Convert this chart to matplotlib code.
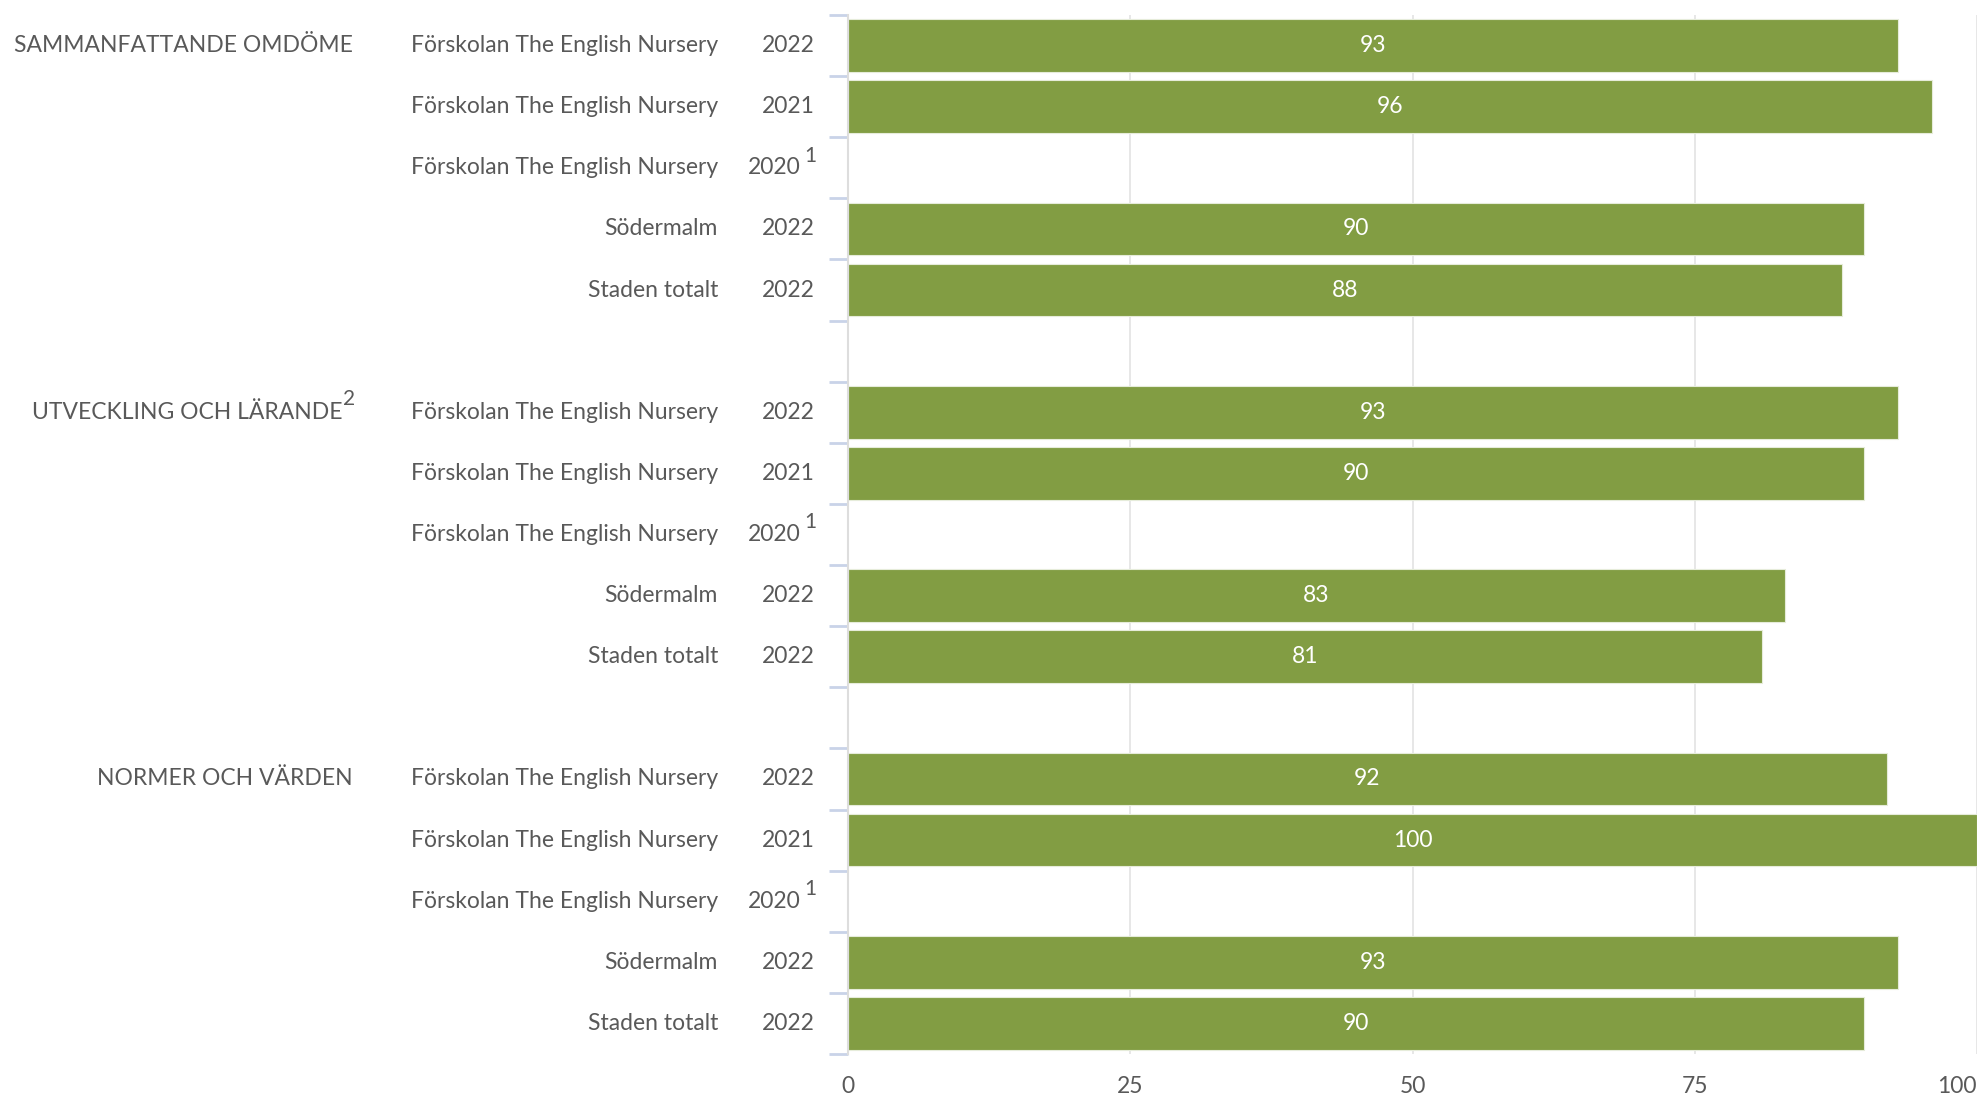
import numpy as np
import matplotlib.pyplot as plt
from matplotlib.transforms import blended_transform_factory

# data (top to bottom), None = no bar / gap row
groups = ["SAMMANFATTANDE OMDÖME", "UTVECKLING OCH LÄRANDE", "NORMER OCH VÄRDEN"]
group_notes = ["", "2", ""]
units = ["Förskolan The English Nursery", "Förskolan The English Nursery",
         "Förskolan The English Nursery", "Södermalm", "Staden totalt"]
years = ["2022", "2021", "2020", "2022", "2022"]
year_notes = ["", "", "1", "", ""]
values = [
    [93, 96, None, 90, 88],
    [93, 90, None, 83, 81],
    [92, 100, None, 93, 90],
]
xticks = [0, 25, 50, 75, 100]

bar_color = "#829D43"
text_color = "#595959"
plt.rcParams['font.family'] = ['Lato', 'DejaVu Sans']
fs = 16.5

fig = plt.figure(figsize=(19.85, 10.98), dpi=100)
ax = fig.add_axes([848 / 1985, 44 / 1098, 1129 / 1985, 1039 / 1098])

n_rows = len(units) * len(groups) + len(groups) - 1
tr = blended_transform_factory(fig.transFigure, ax.transData)

pos = 0
for g, grp in enumerate(groups):
    for i in range(len(units)):
        v = values[g][i]
        if v is not None:
            ax.barh(pos, v, height=0.86, color=bar_color, edgecolor="#E6ECDA", linewidth=0.8, zorder=3)
            ax.text(v / 2, pos, str(v), ha="center", va="center", color="white", fontsize=fs, zorder=4)
        ax.text(718 / 1985, pos, units[i], transform=tr, ha="right", va="center",
                color=text_color, fontsize=fs)
        if year_notes[i]:
            ax.text(801 / 1985, pos, years[i], transform=tr, ha="right", va="center",
                    color=text_color, fontsize=fs)
            ax.text(804 / 1985, pos - 0.2, year_notes[i], transform=tr, ha="left", va="center",
                    color=text_color, fontsize=fs - 1.5)
        else:
            ax.text(815 / 1985, pos, years[i], transform=tr, ha="right", va="center",
                    color=text_color, fontsize=fs)
        if i == 0:
            if group_notes[g]:
                ax.text(342 / 1985, pos, grp, transform=tr, ha="right", va="center",
                        color=text_color, fontsize=fs)
                ax.text(343 / 1985, pos - 0.22, group_notes[g], transform=tr, ha="left", va="center",
                        color=text_color, fontsize=fs - 1.5)
            else:
                ax.text(353 / 1985, pos, grp, transform=tr, ha="right", va="center",
                        color=text_color, fontsize=fs)
        pos += 1
    pos += 1  # gap row

ax.set_ylim(n_rows - 0.5, -0.5)
ax.set_xlim(0, 100)

ax.set_yticks([])
ax.set_yticks(np.arange(-0.5, n_rows, 1), minor=True)
ax.tick_params(axis="y", which="minor", length=14, width=2, color="#C9D3E8", left=True)
ax.set_xticks(xticks)
ax.set_xticklabels([str(t) for t in xticks])
ax.tick_params(axis="x", length=0, pad=16, labelsize=fs, labelcolor=text_color)
ax.get_xticklabels()[-1].set_ha("right")

ax.grid(axis="x", color="#E3E3E3", linewidth=1.2, zorder=0)
for s in ["top", "right", "bottom"]:
    ax.spines[s].set_visible(False)
ax.spines["left"].set_color("#DDDDDD")
ax.spines["left"].set_linewidth(1.5)
ax.spines["left"].set_zorder(5)

fig.savefig("out.png", dpi=100)
